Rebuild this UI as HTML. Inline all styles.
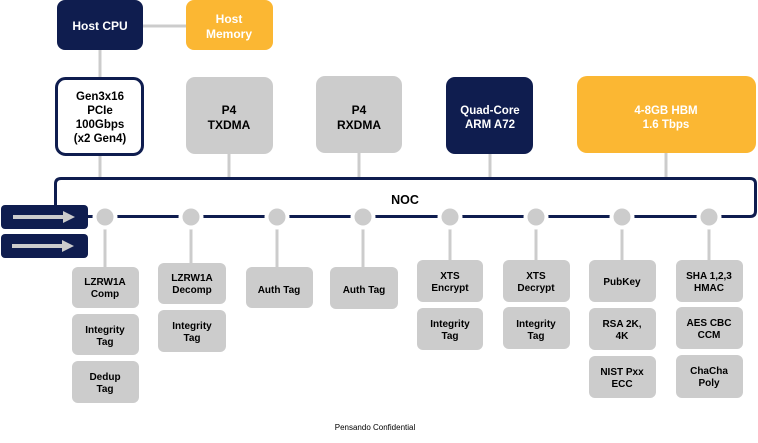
<!DOCTYPE html>
<html><head><meta charset="utf-8"><style>
body{margin:0;width:758px;height:438px;background:#fff;overflow:hidden;font-family:"Liberation Sans",Arial,sans-serif}
</style></head><body>
<svg width="758" height="438" xmlns="http://www.w3.org/2000/svg" font-family="Liberation Sans, Arial, sans-serif" font-weight="bold" font-size="11" text-anchor="middle">
<g stroke="#cccccc" stroke-width="3">
<line x1="143" y1="26" x2="186" y2="26"/>
<line x1="100" y1="50" x2="100" y2="78"/>
<line x1="100" y1="155" x2="100" y2="178"/>
<line x1="229" y1="154" x2="229" y2="178"/>
<line x1="359" y1="153" x2="359" y2="178"/>
<line x1="490" y1="154" x2="490" y2="178"/>
<line x1="666" y1="153" x2="666" y2="178"/>
<line x1="105" y1="227" x2="105" y2="267"/>
<line x1="191" y1="227" x2="191" y2="263"/>
<line x1="277" y1="227" x2="277" y2="267"/>
<line x1="363" y1="227" x2="363" y2="267"/>
<line x1="450" y1="227" x2="450" y2="260"/>
<line x1="536" y1="227" x2="536" y2="260"/>
<line x1="622" y1="227" x2="622" y2="260"/>
<line x1="709" y1="227" x2="709" y2="260"/>
</g>
<rect x="57" y="0" width="86" height="50" rx="8" fill="#0f1d4f"/>
<text x="100" y="30" fill="#fff" font-size="12">Host CPU</text>
<rect x="186" y="0" width="87" height="50" rx="8" fill="#fbb733"/>
<text x="229" y="23" fill="#fff" font-size="12">Host</text>
<text x="229" y="38" fill="#fff" font-size="12">Memory</text>
<rect x="56.5" y="78.5" width="86" height="76" rx="9" fill="#fff" stroke="#0f1d4f" stroke-width="3"/>
<g font-size="11.5" fill="#000"><text x="100" y="100">Gen3x16</text><text x="100" y="114">PCIe</text><text x="100" y="128">100Gbps</text><text x="100" y="142">(x2 Gen4)</text></g>
<rect x="186" y="77" width="87" height="77" rx="9" fill="#cccccc"/>
<text x="229" y="114" fill="#000" font-size="12">P4</text><text x="229" y="129" fill="#000" font-size="12">TXDMA</text>
<rect x="316" y="76" width="86" height="77" rx="9" fill="#cccccc"/>
<text x="359" y="114" fill="#000" font-size="12">P4</text><text x="359" y="129" fill="#000" font-size="12">RXDMA</text>
<rect x="446" y="77" width="87" height="77" rx="9" fill="#0f1d4f"/>
<text x="490" y="114" fill="#fff" font-size="11.5">Quad-Core</text><text x="490" y="128" fill="#fff" font-size="11.5">ARM A72</text>
<rect x="577" y="76" width="179" height="77" rx="10" fill="#fbb733"/>
<text x="666" y="114" fill="#fff" font-size="11.5">4-8GB HBM</text><text x="666" y="128" fill="#fff" font-size="11.5">1.6 Tbps</text>
<path d="M55.5,205 V184 Q55.5,178.5 61,178.5 H750 Q755.5,178.5 755.5,184 V211 Q755.5,216.5 750,216.5 H88" fill="none" stroke="#0f1d4f" stroke-width="3"/>
<text x="405" y="204" fill="#000" font-size="12.5">NOC</text>
<g fill="#cccccc">
<circle cx="105" cy="217" r="10.5" stroke="#fff" stroke-width="4"/><circle cx="191" cy="217" r="10.5" stroke="#fff" stroke-width="4"/><circle cx="277" cy="217" r="10.5" stroke="#fff" stroke-width="4"/><circle cx="363" cy="217" r="10.5" stroke="#fff" stroke-width="4"/><circle cx="450" cy="217" r="10.5" stroke="#fff" stroke-width="4"/><circle cx="536" cy="217" r="10.5" stroke="#fff" stroke-width="4"/><circle cx="622" cy="217" r="10.5" stroke="#fff" stroke-width="4"/><circle cx="709" cy="217" r="10.5" stroke="#fff" stroke-width="4"/>
</g>
<rect x="1" y="205" width="87" height="24" rx="4" fill="#0f1d4f"/>
<rect x="1" y="234" width="87" height="24" rx="4" fill="#0f1d4f"/>
<g fill="#cccccc"><rect x="13" y="215" width="53" height="4"/><polygon points="63,211 75,217 63,223"/><rect x="12" y="244" width="54" height="4"/><polygon points="62,240 74,246 62,252"/></g>
<g fill="#cccccc">
<rect x="72" y="267" width="67" height="41" rx="6"/><rect x="72" y="314" width="67" height="41" rx="6"/><rect x="72" y="361" width="67" height="42" rx="6"/>
<rect x="158" y="263" width="68" height="41" rx="6"/><rect x="158" y="310" width="68" height="42" rx="6"/>
<rect x="246" y="267" width="67" height="41" rx="6"/>
<rect x="330" y="267" width="68" height="42" rx="6"/>
<rect x="417" y="260" width="66" height="42" rx="6"/><rect x="417" y="308" width="66" height="42" rx="6"/>
<rect x="503" y="260" width="67" height="42" rx="6"/><rect x="503" y="307" width="67" height="42" rx="6"/>
<rect x="589" y="260" width="67" height="42" rx="6"/><rect x="589" y="308" width="67" height="42" rx="6"/><rect x="589" y="356" width="67" height="42" rx="6"/>
<rect x="676" y="260" width="67" height="42" rx="6"/><rect x="676" y="307" width="67" height="42" rx="6"/><rect x="676" y="355" width="67" height="43" rx="6"/>
</g>
<g fill="#000" font-size="10">
<text x="105" y="285">LZRW1A</text><text x="105" y="297">Comp</text>
<text x="105" y="333">Integrity</text><text x="105" y="345">Tag</text>
<text x="105" y="380">Dedup</text><text x="105" y="392">Tag</text>
<text x="192" y="281">LZRW1A</text><text x="192" y="293">Decomp</text>
<text x="192" y="329">Integrity</text><text x="192" y="341">Tag</text>
<text x="279" y="293">Auth Tag</text>
<text x="364" y="293">Auth Tag</text>
<text x="450" y="279">XTS</text><text x="450" y="291">Encrypt</text>
<text x="450" y="327">Integrity</text><text x="450" y="339">Tag</text>
<text x="536" y="279">XTS</text><text x="536" y="291">Decrypt</text>
<text x="536" y="327">Integrity</text><text x="536" y="339">Tag</text>
<text x="622" y="285">PubKey</text>
<text x="622" y="327">RSA 2K,</text><text x="622" y="339">4K</text>
<text x="622" y="375">NIST Pxx</text><text x="622" y="387">ECC</text>
<text x="709" y="279">SHA 1,2,3</text><text x="709" y="291">HMAC</text>
<text x="709" y="326">AES CBC</text><text x="709" y="338">CCM</text>
<text x="709" y="374">ChaCha</text><text x="709" y="386">Poly</text>
</g>
<text x="375" y="430" fill="#000" font-size="8" font-weight="normal">Pensando Confidential</text>
</svg>
</body></html>
